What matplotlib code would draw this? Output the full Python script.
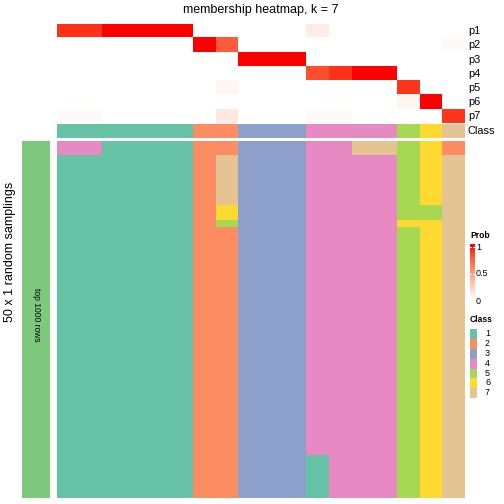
import numpy as np
import matplotlib
matplotlib.use("Agg")
import matplotlib.pyplot as plt
from matplotlib.colors import ListedColormap
from matplotlib.patches import Rectangle

plt.rcParams['font.family'] = ['Liberation Sans', 'DejaVu Sans']

# membership probabilities, rows p1..p7, 18 samples
prob_names = ["p1", "p2", "p3", "p4", "p5", "p6", "p7"]
p1 = [0.93, 0.93, 1, 1, 1, 1, 0, 0, 0, 0, 0, 0.1, 0, 0, 0, 0, 0, 0]
p2 = [0, 0, 0, 0, 0, 0, 1, 0.8, 0, 0, 0, 0, 0, 0, 0, 0, 0, 0.03]
p3 = [0, 0, 0, 0, 0, 0, 0, 0, 1, 1, 1, 0, 0, 0, 0, 0, 0, 0]
p4 = [0, 0, 0, 0, 0, 0, 0, 0, 0, 0, 0, 0.85, 0.93, 1, 1, 0, 0, 0]
p5 = [0, 0, 0, 0, 0, 0, 0, 0.05, 0, 0, 0, 0, 0, 0, 0, 0.92, 0, 0]
p6 = [0, 0, 0, 0, 0, 0, 0, 0, 0, 0, 0, 0, 0, 0, 0, 0.05, 1, 0]
p7 = [0.03, 0.03, 0, 0, 0, 0, 0, 0.12, 0, 0, 0, 0.03, 0.03, 0, 0, 0, 0, 0.92]

# consensus class per sample
sample_class = [1, 1, 1, 1, 1, 1, 2, 2, 3, 3, 3, 4, 4, 4, 4, 5, 6, 7]

# class in each of 50 samplings, per sample, as (class, run length) from the top
sampling_runs = [
    [(4, 2), (1, 48)],
    [(4, 2), (1, 48)],
    [(1, 50)],
    [(1, 50)],
    [(1, 50)],
    [(1, 50)],
    [(2, 50)],
    [(2, 2), (7, 7), (6, 2), (5, 1), (2, 38)],
    [(3, 50)],
    [(3, 50)],
    [(3, 50)],
    [(4, 44), (1, 6)],
    [(4, 50)],
    [(7, 2), (4, 48)],
    [(7, 2), (4, 48)],
    [(5, 11), (6, 1), (5, 38)],
    [(6, 9), (5, 2), (6, 39)],
    [(2, 2), (7, 48)],
]

class_labels = ["1", "2", "3", "4", "5", "6", "7"]
class_colors = ["#66C2A5", "#FC8D62", "#8DA0CB", "#E78AC3", "#A6D854", "#FFD92F", "#E5C494"]


def lab_ramp(n=256):
    # white -> red interpolated in LAB space
    t = np.linspace(0, 1, n)
    L = 100 + (53.24 - 100) * t
    a = 80.09 * t
    b = 67.20 * t
    fy = (L + 16) / 116
    fx = fy + a / 500
    fz = fy - b / 200

    def finv(v):
        return np.where(v ** 3 > 0.008856, v ** 3, (v - 16 / 116) / 7.787)

    X = 0.95047 * finv(fx)
    Y = finv(fy)
    Z = 1.08883 * finv(fz)
    r = 3.2406 * X - 1.5372 * Y - 0.4986 * Z
    g = -0.9689 * X + 1.8758 * Y + 0.0415 * Z
    bb = 0.0557 * X - 0.2040 * Y + 1.0570 * Z
    rgb = np.stack([r, g, bb], axis=1)
    rgb = rgb / rgb[0]
    rgb = np.where(rgb <= 0.0031308, 12.92 * rgb, 1.055 * np.clip(rgb, 0, None) ** (1 / 2.4) - 0.055)
    rgb = np.clip(rgb, 0, 1)
    rgb[0] = [1, 1, 1]
    return ListedColormap(rgb)


prob_cmap = lab_ramp()
class_cmap = ListedColormap(class_colors)

W = H = 504
fig = plt.figure(figsize=(7, 7), dpi=72)


def px_axes(x0, y0, x1, y1):
    ax = fig.add_axes([x0 / W, 1 - y1 / H, (x1 - x0) / W, (y1 - y0) / H])
    ax.set_axis_off()
    return ax


# probability rows
prob = np.array([p1, p2, p3, p4, p5, p6, p7])
ax_p = px_axes(57, 24, 465, 123.5)
ax_p.imshow(prob, cmap=prob_cmap, vmin=0, vmax=1, aspect='auto', interpolation='nearest')
row_h = (123.5 - 24) / len(prob_names)
for i, name in enumerate(prob_names):
    fig.text(468 / W, 1 - (24 + row_h * (i + 0.5)) / H, name, fontsize=11, va='center', ha='left')

# class row
ax_c = px_axes(57, 124, 465, 138)
ax_c.imshow(np.array([sample_class]) - 1, cmap=class_cmap, vmin=-0.5, vmax=6.5,
            aspect='auto', interpolation='nearest')
fig.text(468 / W, 1 - 131 / H, "Class", fontsize=11, va='center', ha='left')

# samplings heatmap
mat = np.zeros((50, len(sampling_runs)), dtype=int)
for j, runs in enumerate(sampling_runs):
    r = 0
    for cls, n in runs:
        mat[r:r + n, j] = cls
        r += n
ax_m = px_axes(57, 141, 465, 498)
ax_m.imshow(mat - 1, cmap=class_cmap, vmin=-0.5, vmax=6.5, aspect='auto', interpolation='nearest')

# left annotation bar
ax_l = px_axes(22, 141, 50, 498)
ax_l.add_patch(Rectangle((0, 0), 1, 1, color="#7FC97F"))
ax_l.set_xlim(0, 1)
ax_l.set_ylim(0, 1)
fig.text(36 / W, 1 - 315 / H, "top 1000 rows", fontsize=8.5, rotation=-90, ha='center', va='center')
fig.text(10 / W, 1 - 252 / H, "50 x 1 random samplings", fontsize=12.5, rotation=90,
         ha='center', va='center')

fig.text(261 / W, 1 - 10 / H, "membership heatmap, k = 7", fontsize=12.5, ha='center', va='center')

# Prob legend
fig.text(470 / W, 1 - 235 / H, "Prob", fontsize=8.5, fontweight='bold', ha='left', va='center')
ax_cb = px_axes(469.5, 244, 474.5, 303)
grad = np.linspace(1.05, -0.05, 100).reshape(-1, 1)
ax_cb.imshow(grad, cmap=prob_cmap, vmin=0, vmax=1, aspect='auto', interpolation='bilinear')
for val, ypx in [(1, 247), (0.5, 274), (0, 301)]:
    fig.text(476 / W, 1 - ypx / H, f"{val:g}", fontsize=9, ha='left', va='center')
    if val > 0:
        yy = 1 - ypx / H
        fig.add_artist(plt.Line2D([469.5 / W, 470.8 / W], [yy, yy], color='white', lw=1))
        fig.add_artist(plt.Line2D([473.2 / W, 474.5 / W], [yy, yy], color='white', lw=1))

# Class legend
fig.text(470 / W, 1 - 320 / H, "Class", fontsize=8.5, fontweight='bold', ha='left', va='center')
for i, (lab, col) in enumerate(zip(class_labels, class_colors)):
    y0 = 329.3 + i * 9.83
    fig.add_artist(Rectangle((470 / W, 1 - (y0 + 9) / H), 5.5 / W, 9 / H, color=col,
                             transform=fig.transFigure))
    fig.text(485 / W, 1 - (y0 + 4.5) / H, lab, fontsize=9, ha='left', va='center')

fig.savefig("out.png", dpi=72)
